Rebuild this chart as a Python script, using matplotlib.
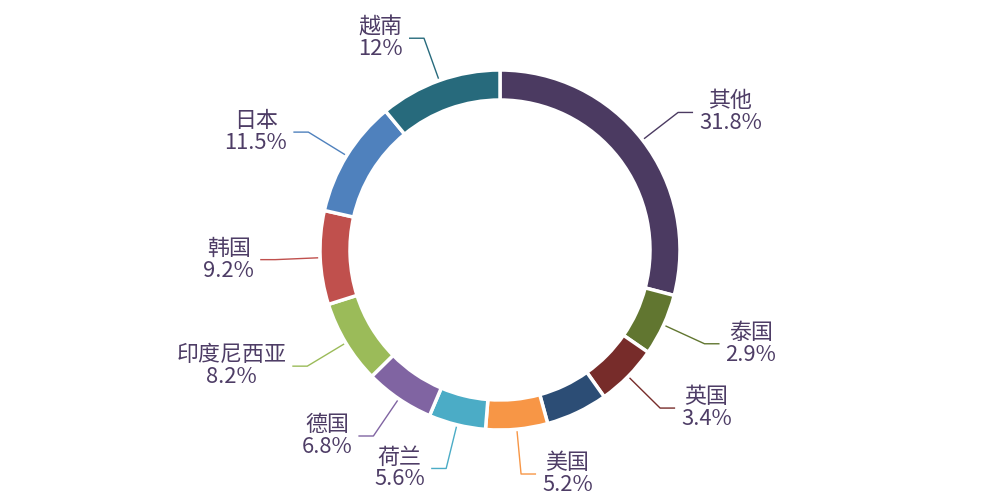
import matplotlib
matplotlib.use("Agg")
import matplotlib.pyplot as plt
import numpy as np

plt.rcParams["font.family"] = ["Noto Sans CJK SC", "DejaVu Sans"]

# data, clockwise from the top
countries = ["其他", "泰国", "英国", "", "美国", "荷兰", "德国", "印度尼西亚", "韩国", "日本", "越南"]
shares = [31.8, 2.9, 3.4, 3.4, 5.2, 5.6, 6.8, 8.2, 9.2, 11.5, 12]
colors = ["#4B3A61", "#617630", "#772C2A", "#2C4D75", "#F79646", "#4BACC6",
          "#8064A2", "#9BBB59", "#C0504D", "#4F81BD", "#276A7C"]
pct_labels = ["31.8%", "2.9%", "3.4%", "", "5.2%", "5.6%", "6.8%", "8.2%", "9.2%", "11.5%", "12%"]

text_color = "#4E3D66"
min_angle = 20.0  # slices below this get bumped up (echarts style)


def min_angle_sizes(values, min_deg):
    values = np.asarray(values, dtype=float)
    ang = values / values.sum() * 360.0
    small = ang < min_deg
    rest = 360.0 - min_deg * small.sum()
    out = np.where(small, min_deg, values * rest / values[~small].sum())
    return out


fig = plt.figure(figsize=(10, 5), dpi=100)
ax = fig.add_axes([0, 0, 1, 1])
ax.set_xlim(0, 1000)
ax.set_ylim(0, 500)
ax.set_aspect("equal")
ax.axis("off")

cx, cy, r_out, ring = 500, 250, 180, 30
sizes = min_angle_sizes(shares, min_angle)

wedges, _ = ax.pie(
    sizes,
    colors=colors,
    startangle=90,
    counterclock=False,
    center=(cx, cy),
    radius=r_out,
    wedgeprops=dict(width=ring, edgecolor="white", linewidth=2.5),
    frame=True,
)
ax.set_xlim(0, 1000)
ax.set_ylim(0, 500)
ax.axis("off")

for w, name, pct, col in zip(wedges, countries, pct_labels, colors):
    if not name:
        continue
    mid = np.deg2rad((w.theta1 + w.theta2) / 2)
    c, s = np.cos(mid), np.sin(mid)
    x0, y0 = cx + (r_out + 2) * c, cy + (r_out + 2) * s
    x1, y1 = cx + 225 * c, cy + 225 * s
    side = 1 if c >= 0 else -1
    x2 = x1 + 15 * side
    ax.plot([x0, x1, x2], [y0, y1, y1], color=col, lw=1, solid_capstyle="butt")
    ax.text(x2 + 6 * side, y1, name + "\n" + pct,
            ha="left" if side > 0 else "right", va="center",
            multialignment="center", fontsize=15.8, color=text_color,
            linespacing=1.0)

fig.savefig("out.png", dpi=100)
